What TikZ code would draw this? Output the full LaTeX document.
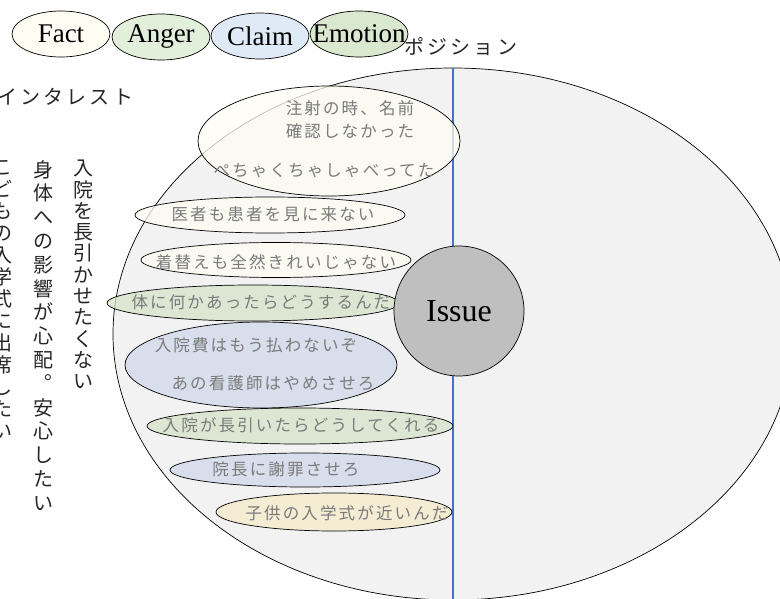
\documentclass[tikz,border=0pt]{standalone}
\usepackage{fontspec}
\setmainfont{Liberation Serif}
\newfontfamily\jpin[LetterSpace=13]{Noto Sans CJK JP}
\newfontfamily\jplab[LetterSpace=16]{Noto Sans CJK JP}
\newfontfamily\jpv{Noto Sans CJK JP}
\usetikzlibrary{shapes.geometric}
\definecolor{bigfill}{HTML}{F2F2F2}
\definecolor{factc}{HTML}{FEFDF4}
\definecolor{angerc}{HTML}{E2EFDA}
\definecolor{claimc}{HTML}{DEEBF7}
\definecolor{emoc}{HTML}{DAE8D0}
\definecolor{greenin}{HTML}{D5E3C8}
\definecolor{bluein}{HTML}{D0D8EA}
\definecolor{yellin}{HTML}{F6ECCB}
\definecolor{issuec}{HTML}{BFBFBF}
\definecolor{axisc}{HTML}{4472C4}
\definecolor{txtgray}{HTML}{7A7A7A}
\newcommand{\vpun}[1]{\rlap{\hspace{0.58em}\raisebox{0.6em}{#1}}\phantom{#1}}
\tikzset{
  ell/.style={ellipse, draw=black, line width=0.7pt, inner sep=0pt},
  legell/.style={ell, minimum width=98pt, minimum height=46pt},
  legtext/.style={inner sep=0pt, font=\fontsize{27}{27}\selectfont},
  inell/.style={ell, fill opacity=0.75},
  intext/.style={inner sep=0pt, text=txtgray, font=\jpin\fontsize{16.5}{20}\selectfont},
  vtext/.style={inner sep=0pt, anchor=north, align=center, text=black!85},
  hlabel/.style={inner sep=0pt, anchor=west, text=black!85, font=\jplab\fontsize{20}{24}\selectfont},
  axisline/.style={draw=axisc, line width=1.1pt}
}
\begin{document}
\begin{tikzpicture}[x=1pt,y=-1pt]
\useasboundingbox (0,0) rectangle (780,599);
\clip (0,0) rectangle (780,599);
% legend
\node[legell, fill=factc] (lf) at (61,34) {};
\node[legell, fill=angerc] (la) at (161,37) {};
\node[legell, fill=claimc] (lc) at (260,36) {};
\node[legell, fill=emoc] (le) at (359,34) {};
\node[legtext] (lft) at (lf.center) {Fact};
\node[legtext] (lat) at (la.center) {Anger};
\node[legtext] (lct) at (lc.center) {Claim};
\node[legtext] (let) at (le.center) {Emotion};
% labels
\node[hlabel] (pos) at (404,47) {ポジション};
\node[hlabel] (int) at (-3,97) {インタレスト};
% big ellipse
\node[ell, fill=bigfill, minimum width=680pt, minimum height=532pt] (big) at (453,334) {};
\coordinate (vtop) at (453,68);
\coordinate (vbot) at (453,600);
\draw[axisline] (vtop) -- (vbot);
% inner ellipses
\node[inell, fill=factc, minimum width=262pt, minimum height=110pt] (e1) at (329,141) {};
\node[inell, fill=factc, minimum width=270pt, minimum height=36pt] (e2) at (270,215) {};
\node[inell, fill=factc, minimum width=270pt, minimum height=35pt] (e3) at (276,260) {};
\node[inell, fill=greenin, minimum width=292pt, minimum height=36pt] (e4) at (253,303) {};
\node[inell, fill=bluein, minimum width=272pt, minimum height=86pt] (e5) at (261,365) {};
\node[inell, fill=greenin, minimum width=306pt, minimum height=36pt] (e6) at (300,426) {};
\node[inell, fill=bluein, minimum width=270pt, minimum height=34pt] (e7) at (305,470) {};
\node[inell, fill=yellin, minimum width=236pt, minimum height=38pt] (e8) at (334,512) {};
% issue
\node[circle, draw=black, line width=0.7pt, fill=issuec, minimum size=130pt, inner sep=0pt,
      font=\fontsize{32}{32}\selectfont] (issue) at (459,311) {Issue};
% inner texts
\node[intext] (t1) at (350,108) {注射の時、名前};
\node[intext] (t2) at (350,131) {確認しなかった};
\node[intext] (t3) at (324,171) {ぺちゃくちゃしゃべってた};
\node[intext] (t4) at (273,214) {医者も患者を見に来ない};
\node[intext] (t5) at (276,262) {着替えも全然きれいじゃない};
\node[intext] (t6) at (261,302) {体に何かあったらどうするんだ};
\node[intext] (t7) at (256,345) {入院費はもう払わないぞ};
\node[intext] (t8) at (273,383) {あの看護師はやめさせろ};
\node[intext] (t9) at (301,425) {入院が長引いたらどうしてくれる};
\node[intext] (t10) at (286,469) {院長に謝罪させろ};
\node[intext] (t11) at (347,513) {子供の入学式が近いんだ};
% vertical interests
\node[vtext, font=\jpv\fontsize{20}{21.3}\selectfont] (c1) at (83,160)
  {入\\院\\を\\長\\引\\か\\せ\\た\\く\\な\\い};
\node[vtext, font=\jpv\fontsize{20}{23.8}\selectfont] (c2) at (43,160)
  {身\\体\\へ\\の\\影\\響\\が\\心\\配\\\vpun{。}\\安\\心\\し\\た\\い};
\node[vtext, font=\jpv\fontsize{20}{22}\selectfont] (c3) at (3,160)
  {こ\\ど\\も\\の\\入\\学\\式\\に\\出\\席\\し\\た\\い};
\end{tikzpicture}
\end{document}
